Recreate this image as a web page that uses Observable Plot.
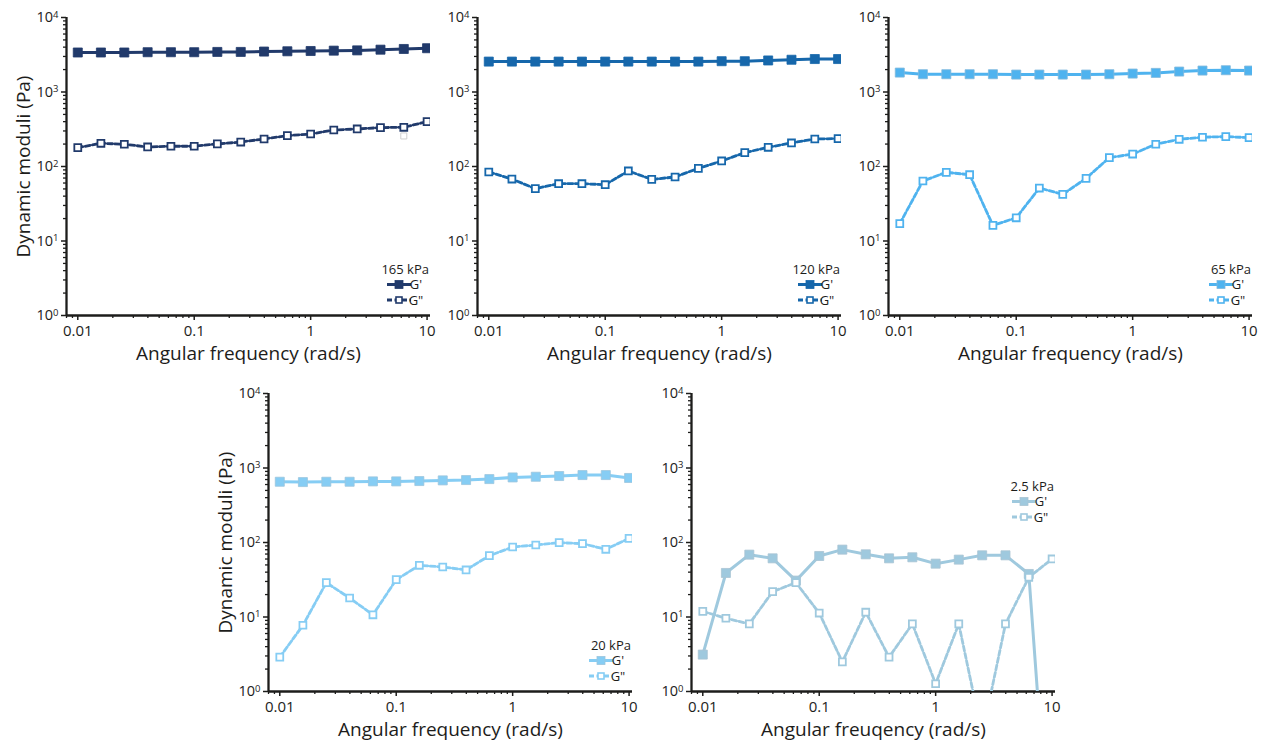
<!DOCTYPE html>
<html>
<head>
<meta charset="utf-8">
<script src="https://cdn.jsdelivr.net/npm/d3@7"></script>
<script src="https://cdn.jsdelivr.net/npm/@observablehq/plot@0.6"></script>
<style>
  body { margin: 0; background: #fff; }
  #chart { position: relative; width: 1262px; height: 740px; font-family: "Open Sans", sans-serif; }
  .panel { position: absolute; }
</style>
</head>
<body>
<div id="chart"></div>
<script>
// Frequency sweep points (rad/s), five per decade
const freq = [0.01, 0.0158, 0.0251, 0.0398, 0.0631, 0.1, 0.158, 0.251, 0.398, 0.631, 1, 1.58, 2.51, 3.98, 6.31, 10];

// Hydrogel stiffness of each sample
const stiffness = ["165 kPa", "120 kPa", "65 kPa", "20 kPa", "2.5 kPa"];

// Storage modulus G' (Pa)
const storage165 = [3390, 3390, 3390, 3420, 3420, 3420, 3450, 3450, 3490, 3520, 3550, 3590, 3620, 3700, 3780, 3870];
const storage120 = [2560, 2560, 2560, 2560, 2560, 2560, 2560, 2560, 2560, 2560, 2590, 2590, 2650, 2710, 2770, 2770];
const storage65  = [1823, 1732, 1732, 1732, 1732, 1714, 1714, 1714, 1714, 1732, 1768, 1804, 1881, 1940, 1960, 1940];
const storage20  = [654, 647, 654, 654, 661, 661, 668, 682, 689, 710, 747, 763, 780, 804, 804, 735];
const storage2_5 = [3.13, 39.0, 68.7, 61.3, 30.8, 65.9, 80.2, 69.4, 61.3, 63.3, 52.0, 58.9, 67.3, 67.3, 37.8, 0.002];

// Loss modulus G'' (Pa)
const loss165 = [179, 205, 199, 183, 187, 187, 201, 213, 234, 260, 273, 309, 319, 333, 336, 400];
const loss120 = [84.4, 67.9, 50.4, 58.8, 58.8, 57.0, 87.1, 67.2, 72.3, 94.5, 118.6, 153.5, 181, 207, 234, 237];
const loss65  = [17.1, 63.9, 83.5, 77.6, 16.2, 20.5, 51.4, 42.3, 69.3, 131.5, 147, 199, 232, 247, 252, 244];
const loss20  = [2.89, 7.75, 28.9, 18.0, 10.7, 31.7, 49.4, 46.9, 42.8, 66.6, 87.0, 92.6, 99.5, 96.5, 81.0, 113.7];
const loss2_5 = [11.9, 9.62, 8.08, 21.9, 28.9, 11.3, 2.50, 11.6, 2.89, 8.08, 1.27, 8.08, 0.26, 8.08, 34.1, 60.1];

// A faint leftover G'' marker in the 165 kPa sweep
const strayFreq165 = [6.31];
const strayLoss165 = [257];

// Tick labels
const xTicks = [0.01, 0.1, 1, 10];
const xTickLabels = ["0.01", "0.1", "1", "10"];
const yTicks = [1, 10, 100, 1000, 10000];
const yTickBase = "10";
const yTickExponents = ["0", "1", "2", "3", "4"];

const xTitles = ["Angular frequency (rad/s)", "Angular frequency (rad/s)", "Angular frequency (rad/s)",
                 "Angular frequency (rad/s)", "Angular freuqency (rad/s)"];
const yTitle = "Dynamic moduli (Pa)";
const legendNames = ["G'", "G\""];

const colors = ["#213a6b", "#1667ab", "#4fb3ef", "#86cdf4", "#9fc9de"];
const edges  = ["#213a6b", "#1667ab", "#7fb7dc", "#9cc5dd", "#a9c4d3"];

const storage = [storage165, storage120, storage65, storage20, storage2_5];
const loss = [loss165, loss120, loss65, loss20, loss2_5];

// Panel placement on the page
const layout = [
  {left: 0,     top: 0,     yTitle: true,  legendTop: null},
  {left: 410.7, top: 0,     yTitle: false, legendTop: null},
  {left: 821.7, top: 0,     yTitle: false, legendTop: null},
  {left: 202.3, top: 375.7, yTitle: true,  legendTop: null},
  {left: 625,   top: 375.7, yTitle: false, legendTop: 93}
];

const xDomain = [0.008, 10.7];
const yDomain = [1, 10000];
const xMinor = d3.scaleLog().domain(xDomain).ticks().filter(d => !xTicks.includes(d));
const yMinor = d3.scaleLog().domain(yDomain).ticks().filter(d => !yTicks.includes(d));

const ink = "#1d1d1b";
const font = "'Open Sans', sans-serif";
const lossDash = "5,2.5";

function legend(label, color, edge, legendTop) {
  return (index, scales, values, dims) => {
    const right = dims.width - dims.marginRight;
    const y0 = legendTop == null ? dims.height - dims.marginBottom - 46 : dims.marginTop + legendTop;
    const g = d3.create("svg:g")
      .attr("font-family", font)
      .attr("fill", ink);
    g.append("text").attr("x", right - 1).attr("y", y0).attr("dy", "0.35em")
      .attr("text-anchor", "end").attr("font-size", 13).text(label);
    const rows = [y0 + 15.5, y0 + 31];
    rows.forEach((ry, i) => {
      g.append("line").attr("x1", right - 43).attr("x2", right - 19).attr("y1", ry).attr("y2", ry)
        .attr("stroke", color).attr("stroke-width", i === 0 ? 3 : 2.8)
        .attr("stroke-dasharray", i === 0 ? null : lossDash);
      const s = i === 0 ? 8 : 6;
      g.append("rect").attr("x", right - 31 - s / 2).attr("y", ry - s / 2).attr("width", s).attr("height", s)
        .attr("fill", i === 0 ? color : "white").attr("stroke", i === 0 ? edge : color)
        .attr("stroke-width", i === 0 ? 0.8 : 1.6);
      g.append("text").attr("x", right - 14).attr("y", ry).attr("dy", "0.35em")
        .attr("font-size", 13).text(legendNames[i]);
    });
    return g.node();
  };
}

const chart = document.getElementById("chart");

stiffness.forEach((label, p) => {
  const rows = freq.map((f, i) => ({freq: f, storage: storage[p][i], loss: loss[p][i]}));
  const color = colors[p];
  const L = layout[p];

  const marks = [
    // axes: minor ticks without labels, then labelled decades
    Plot.axisX(xMinor, {tickSize: 3, tickFormat: () => "", strokeWidth: 1.3, stroke: ink, label: null}),
    Plot.axisX(xTicks, {tickSize: 5, tickPadding: 5, strokeWidth: 1.5, stroke: ink, fill: ink, fontSize: 15,
      tickFormat: d => xTickLabels[xTicks.indexOf(d)], label: null}),
    Plot.axisY(yMinor, {tickSize: 3, tickFormat: () => "", strokeWidth: 1.3, stroke: ink, label: null}),
    Plot.axisY(yTicks, {tickSize: 5, tickPadding: 3, strokeWidth: 1.5, stroke: ink, fill: ink, fontSize: 14.5,
      tickFormat: () => yTickBase, label: null}),
    Plot.ruleY([yDomain[0]], {stroke: ink, strokeWidth: 2.3}),
    Plot.ruleX([xDomain[0]], {stroke: ink, strokeWidth: 2.3}),
    Plot.text([xTitles[p]], {frameAnchor: "bottom", dy: 44, lineAnchor: "bottom", textAnchor: "middle", fontSize: 19, fill: ink}),
  ];
  if (L.yTitle) {
    marks.push(Plot.text([yTitle], {frameAnchor: "left", rotate: -90, dx: -43, lineAnchor: "middle", textAnchor: "middle", fontSize: 19, fill: ink}));
  }
  // G' : solid line with filled squares
  marks.push(Plot.line(rows, {x: "freq", y: "storage", stroke: color, strokeWidth: 3, clip: true}));
  marks.push(Plot.dot(rows, {x: "freq", y: "storage", symbol: "square", r: 5.1, fill: color, stroke: edges[p], strokeWidth: 0.8, clip: true}));
  // G'' : dashed line with open squares
  marks.push(Plot.line(rows, {x: "freq", y: "loss", stroke: color, strokeWidth: 2.8, strokeDasharray: lossDash, clip: true}));
  marks.push(Plot.dot(rows, {x: "freq", y: "loss", symbol: "square", r: 3.9, fill: "white", stroke: color, strokeWidth: 1.8, clip: true}));
  if (p === 0) {
    marks.push(Plot.dot(strayFreq165.map((f, i) => ({freq: f, loss: strayLoss165[i]})),
      {x: "freq", y: "loss", symbol: "square", r: 3.4, fill: "white", stroke: "#cfcfcf", strokeWidth: 1}));
  }
  marks.push(legend(label, color, edges[p], L.legendTop));

  const svg = Plot.plot({
    width: 440,
    height: 370,
    marginLeft: 66,
    marginRight: 10,
    marginTop: 17,
    marginBottom: 55,
    style: {background: "transparent", overflow: "visible", fontFamily: font, color: ink},
    x: {type: "log", domain: xDomain, axis: null},
    y: {type: "log", domain: yDomain, axis: null},
    marks
  });

  // superscript exponents on the labelled y ticks (the group whose labels read "10")
  svg.querySelectorAll('[aria-label="y-axis tick label"]').forEach(group => {
    const texts = [...group.querySelectorAll("text")];
    if (!texts.length || texts[0].textContent !== yTickBase) return;
    texts.forEach((t, i) => {
      const sup = document.createElementNS("http://www.w3.org/2000/svg", "tspan");
      sup.setAttribute("dy", "-0.45em");
      sup.setAttribute("font-size", "9.5");
      sup.textContent = yTickExponents[i];
      t.appendChild(sup);
    });
  });

  const holder = document.createElement("div");
  holder.className = "panel";
  holder.style.left = L.left + "px";
  holder.style.top = L.top + "px";
  holder.style.width = "440px";
  holder.appendChild(svg);
  chart.appendChild(holder);
});
</script>
</body>
</html>
